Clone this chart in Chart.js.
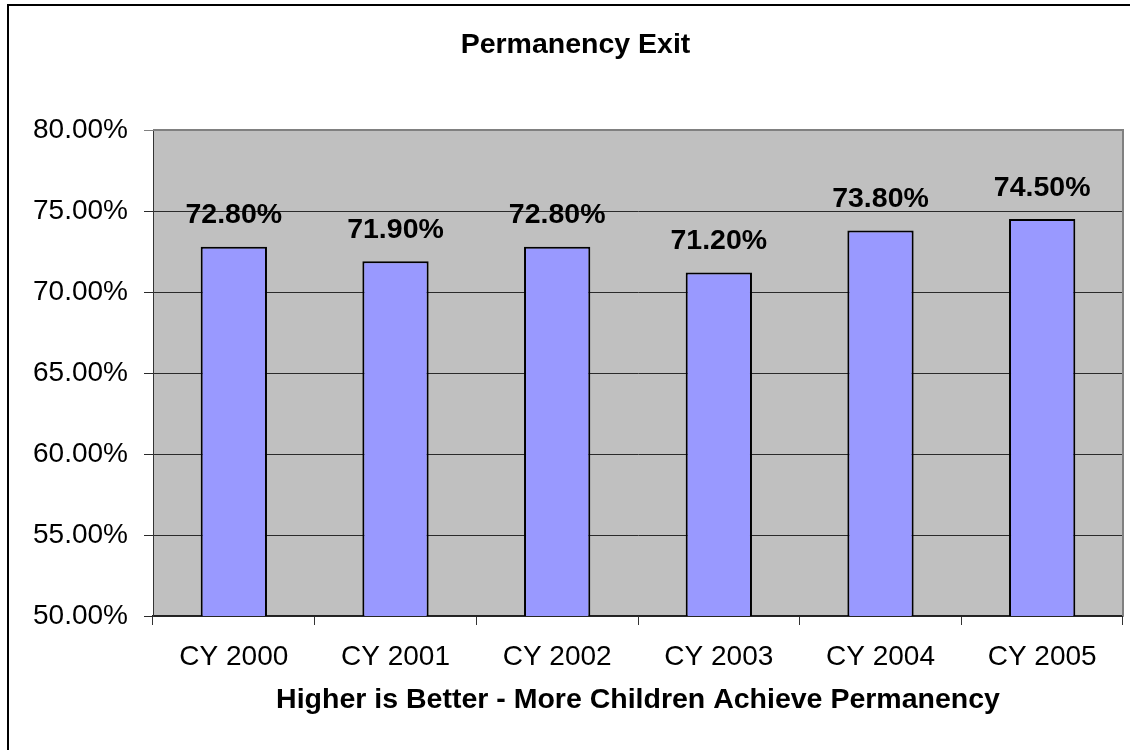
<!DOCTYPE html>
<html>
<head>
<meta charset="utf-8">
<title>Permanency Exit</title>
<script src="https://cdn.jsdelivr.net/npm/chart.js@4/dist/chart.umd.min.js"></script>
<style>
  html, body { margin: 0; padding: 0; background: #fff; overflow: hidden; }
  #wrap { position: relative; width: 1130px; height: 750px; }
  /* outer chart frame: only the left and top edges fall inside the window */
  #frame {
    position: absolute; left: 7px; top: 4px; width: 1200px; height: 800px;
    border-left: 2px solid #000; border-top: 2px solid #000; box-sizing: border-box;
  }
  #chart { position: absolute; left: 0; top: 0; }
</style>
</head>
<body>
<div id="wrap">
  <div id="frame"></div>
  <canvas id="chart" width="1130" height="750"></canvas>
</div>
<script>
// Share of exits to permanency by calendar year (percent)
const categories = ['CY 2000', 'CY 2001', 'CY 2002', 'CY 2003', 'CY 2004', 'CY 2005'];
const exitRates = [72.8, 71.9, 72.8, 71.2, 73.8, 74.5];
const yMin = 50;
const yMax = 80;
const yStep = 5;

const FONT = "'Liberation Sans', Arial, Helvetica, sans-serif";
const pct = v => Number(v).toFixed(2) + '%';

// grey plot background plus the grey top/right edges of the plot frame
const plotFrame = {
  id: 'plotFrame',
  afterLayout(chart) {
    // centre the chart title on the outer frame rather than the canvas
    if (chart.titleBlock) chart.titleBlock.left += 28;
  },
  beforeDraw(chart) {
    const { ctx, chartArea: a } = chart;
    ctx.save();
    ctx.fillStyle = '#C0C0C0';
    ctx.fillRect(a.left, a.top, a.right - a.left, a.bottom - a.top);
    ctx.restore();
  },
  afterDatasetsDraw(chart) {
    const { ctx, chartArea: a } = chart;
    ctx.save();
    ctx.strokeStyle = '#808080';
    ctx.lineWidth = 2;
    ctx.beginPath();
    ctx.moveTo(a.left, a.top);
    ctx.lineTo(a.right, a.top);
    ctx.lineTo(a.right, a.bottom);
    ctx.stroke();
    ctx.restore();
  }
};

// bold value labels above each bar
const valueLabels = {
  id: 'valueLabels',
  afterDatasetsDraw(chart) {
    const { ctx } = chart;
    const meta = chart.getDatasetMeta(0);
    const data = chart.data.datasets[0].data;
    ctx.save();
    ctx.font = 'bold 28.5px ' + FONT;
    ctx.fillStyle = '#000';
    ctx.textAlign = 'center';
    ctx.textBaseline = 'middle';
    meta.data.forEach((bar, i) => {
      ctx.fillText(pct(data[i]), bar.x, bar.y - 31);
    });
    ctx.restore();
  }
};

new Chart(document.getElementById('chart'), {
  type: 'bar',
  data: {
    labels: categories,
    datasets: [{
      data: exitRates,
      backgroundColor: '#9999FF',
      borderColor: '#000',
      borderWidth: 2,
      borderSkipped: false,
      categoryPercentage: 1,
      barPercentage: 0.41
    }]
  },
  options: {
    responsive: false,
    animation: false,
    events: [],
    layout: { padding: { left: 0, right: 7, top: 0, bottom: 0 } },
    plugins: {
      legend: { display: false },
      tooltip: { enabled: false },
      title: {
        display: true,
        text: 'Permanency Exit',
        color: '#000',
        font: { family: FONT, size: 28.5, weight: 'bold', lineHeight: 1.2 },
        padding: { top: 28.4, bottom: 67.4 }
      }
    },
    scales: {
      x: {
        afterFit(scale) { scale.height = 134; },
        grid: {
          offset: true,
          drawOnChartArea: false,
          drawTicks: true,
          tickLength: 9,
          color: '#333',
          lineWidth: 1
        },
        border: { display: true, color: '#222', width: 1.5 },
        ticks: {
          color: '#000',
          padding: 15.7,
          maxRotation: 0,
          font: { family: FONT, size: 28, lineHeight: 1.2 }
        },
        title: {
          display: true,
          text: 'Higher is Better - More Children Achieve Permanency',
          color: '#000',
          font: { family: FONT, size: 28.5, weight: 'bold', lineHeight: 1.2 },
          padding: { top: 0, bottom: 32.4 }
        }
      },
      y: {
        min: yMin,
        max: yMax,
        afterFit(scale) { scale.width = 153; },
        grid: {
          drawTicks: true,
          tickLength: 9,
          color: ctx => (ctx.tick && ctx.tick.value === yMax ? '#808080' : '#2a2a2a'),
          lineWidth: 1
        },
        border: { display: true, color: '#333', width: 1 },
        ticks: {
          stepSize: yStep,
          color: '#000',
          padding: 16,
          font: { family: FONT, size: 28, lineHeight: 1.2 },
          callback: v => pct(v)
        }
      }
    }
  },
  plugins: [plotFrame, valueLabels]
});
</script>
</body>
</html>
